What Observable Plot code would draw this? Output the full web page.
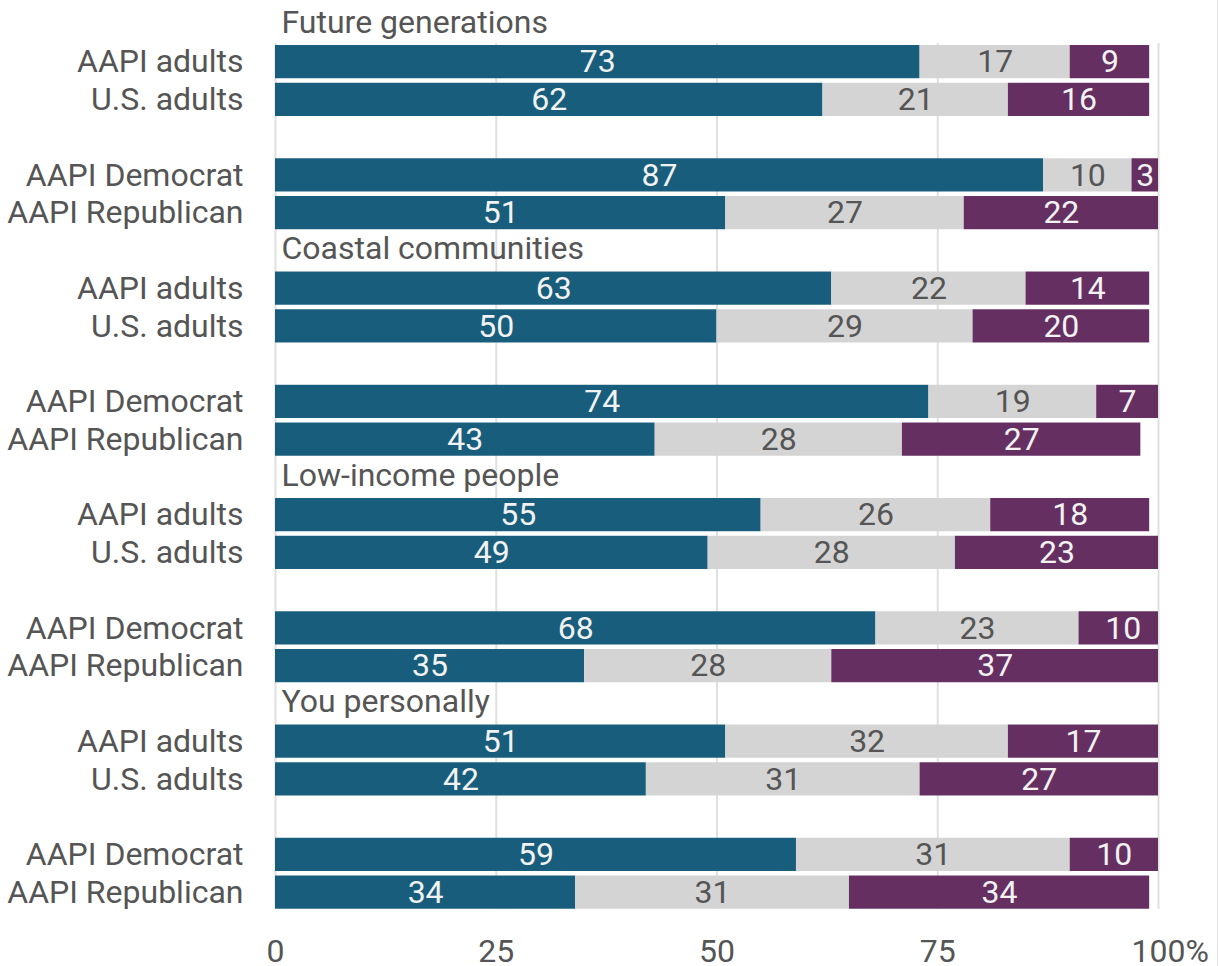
<!DOCTYPE html>
<html>
<head>
<meta charset="utf-8">
<script src="https://cdn.jsdelivr.net/npm/d3@7"></script>
<script src="https://cdn.jsdelivr.net/npm/@observablehq/plot@0.6"></script>
<style>
  body { margin: 0; background: white; }
  #wrap { position: relative; width: 1218px; height: 966px; }
  #edge { position: absolute; right: 0; top: 0; width: 1px; height: 966px; background: #e2e2e2; }
</style>
</head>
<body>
<div id="wrap"><div id="chart"></div><div id="edge"></div></div>
<script>
const groups = ["Future generations", "Coastal communities", "Low-income people", "You personally"];
const rowLabels = ["AAPI adults", "U.S. adults", "AAPI Democrat", "AAPI Republican"];
const responses = ["A great deal", "Some", "A little"];
const responseColors = ["#185e7c", "#d4d4d4", "#652f61"];
const labelColors = ["#f2f2f2", "#555555", "#f2f2f2"];

// 16 values each: for each group, rows in rowLabels order
const greatDeal = [73, 62, 87, 51, 63, 50, 74, 43, 55, 49, 68, 35, 51, 42, 59, 34];
const some      = [17, 21, 10, 27, 22, 29, 19, 28, 26, 28, 23, 28, 32, 31, 31, 31];
const little    = [ 9, 16,  3, 22, 14, 20,  7, 27, 18, 23, 10, 37, 17, 27, 10, 34];
const xTicks = [0, 25, 50, 75, 100];

const series = [greatDeal, some, little];

// y domain: per group a title slot, two rows, a gap, two rows
const slots = ["title", "AAPI adults", "U.S. adults", "gap", "AAPI Democrat", "AAPI Republican"];
const yDomain = groups.flatMap(g => slots.map(s => g + "|" + s));

const data = [];
groups.forEach((g, gi) => {
  rowLabels.forEach((r, ri) => {
    responses.forEach((resp, si) => {
      data.push({key: g + "|" + r, resp, ri: si, value: series[si][gi * 4 + ri]});
    });
  });
});

const firstKey = groups[0] + "|AAPI adults";
const lastKey = groups[groups.length - 1] + "|AAPI Republican";
const FS = 32;

const chart = Plot.plot({
  width: 1218,
  height: 966,
  marginLeft: 275,
  marginRight: 60,
  marginTop: 5,
  marginBottom: 55,
  style: {fontFamily: "Roboto", color: "#555", background: "transparent"},
  x: {domain: [0, 100], label: null},
  y: {domain: yDomain, paddingInner: 0.12, paddingOuter: 0.06, round: false, label: null},
  color: {type: "identity"},
  marks: [
    Plot.ruleX(xTicks, {x: d => d, y1: () => firstKey, y2: () => lastKey, stroke: "#e0e0e0", strokeWidth: 2, insetTop: -2}),
    Plot.barX(data, Plot.stackX({x: "value", y: "key", z: "resp", fill: d => responseColors[d.ri], clip: true})),
    Plot.text(data, Plot.stackX({x: "value", y: "key", z: "resp", text: d => String(d.value), fill: d => labelColors[d.ri], fontSize: FS})),
    Plot.text(groups, {x: () => 0, y: g => g + "|title", text: d => d, textAnchor: "start", dx: 6, dy: -2, fontSize: FS, fill: "#555"}),
    Plot.axisY({tickSize: 0, tickPadding: 32, fontSize: FS, fill: "#555", label: null,
      tickFormat: k => { const s = k.split("|")[1]; return (s === "title" || s === "gap") ? "" : s; }}),
    Plot.axisX({ticks: xTicks, tickSize: 0, tickPadding: 28, fontSize: FS, fill: "#555", label: null, tickFormat: d => String(d)}),
    Plot.text(["%"], {x: () => 100, frameAnchor: "bottom", lineAnchor: "top", textAnchor: "start", dx: 27, dy: 28, fontSize: FS, fill: "#555"})
  ]
});
document.getElementById("chart").appendChild(chart);
</script>
</body>
</html>
